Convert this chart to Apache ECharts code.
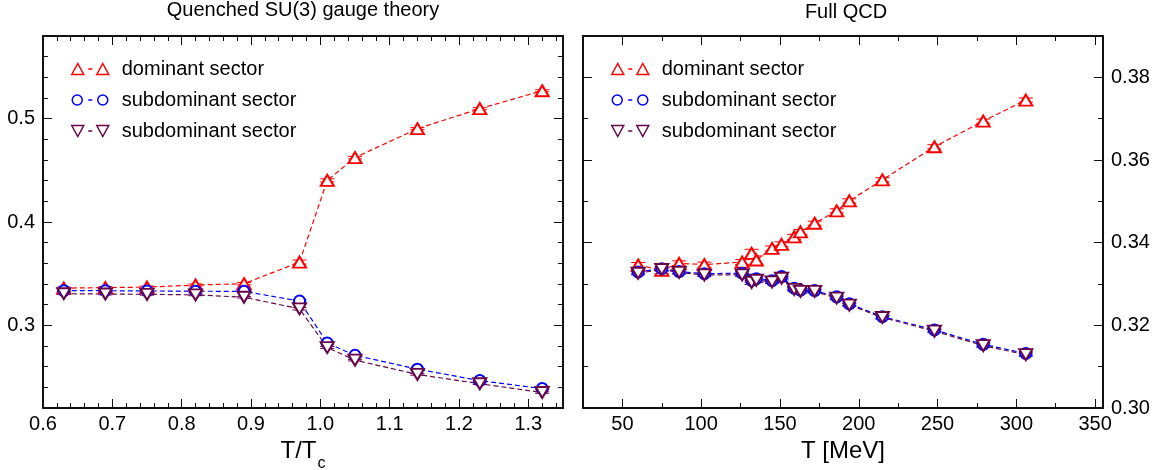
<!DOCTYPE html>
<html><head><meta charset="utf-8">
<script src="https://cdn.jsdelivr.net/npm/echarts@6/dist/echarts.min.js"></script>
<style>html,body{margin:0;padding:0;background:#fff}#c{width:1164px;height:470px}</style>
</head><body><div id="c"></div>
<script>
const FONT = "'Liberation Sans', Arial, Helvetica, sans-serif";

// ---------- Left panel: quenched SU(3) gauge theory ----------
const quenchedT = [0.63, 0.69, 0.75, 0.82, 0.89, 0.97, 1.01, 1.05, 1.14, 1.23, 1.32];
const quenchedDominant = [0.3360, 0.3365, 0.3370, 0.3390, 0.3403, 0.3612, 0.4403, 0.4623, 0.4903, 0.5097, 0.5270];
const quenchedDominantErr = [0.0010, 0.0010, 0.0010, 0.0010, 0.0012, 0.0020, 0.0015, 0.0012, 0.0010, 0.0010, 0.0010];
const quenchedSubCircle = [0.3335, 0.3335, 0.3333, 0.3330, 0.3329, 0.3235, 0.2829, 0.2710, 0.2576, 0.2465, 0.2388];
const quenchedSubCircleErr = [0.0008, 0.0008, 0.0008, 0.0008, 0.0008, 0.0012, 0.0010, 0.0008, 0.0008, 0.0008, 0.0008];
const quenchedSubTriangle = [0.3306, 0.3303, 0.3300, 0.3295, 0.3272, 0.3160, 0.2785, 0.2663, 0.2525, 0.2435, 0.2350];
const quenchedSubTriangleErr = [0.0008, 0.0008, 0.0008, 0.0008, 0.0008, 0.0012, 0.0010, 0.0008, 0.0008, 0.0008, 0.0008];

// ---------- Right panel: full QCD ----------
const qcdT = [60, 75, 86, 102, 126, 132, 135, 145, 151, 159, 163, 172, 186, 194, 215, 248, 279, 306];
const qcdDominant = [0.3346, 0.3333, 0.3350, 0.3347, 0.3353, 0.3374, 0.3358, 0.3386, 0.3396, 0.3414, 0.3426, 0.3447, 0.3477, 0.3501, 0.3552, 0.3632, 0.3694, 0.3745];
const qcdDominantErr = [0.0006, 0.0008, 0.0006, 0.0006, 0.0006, 0.0010, 0.0010, 0.0006, 0.0006, 0.0006, 0.0006, 0.0005, 0.0005, 0.0005, 0.0005, 0.0005, 0.0005, 0.0005];
const qcdSubCircle = [0.3329, 0.3337, 0.3330, 0.3325, 0.3326, 0.3309, 0.3313, 0.3308, 0.3318, 0.3290, 0.3285, 0.3284, 0.3269, 0.3252, 0.3221, 0.3189, 0.3154, 0.3132];
const qcdSubCircleErr = [0.0004, 0.0004, 0.0004, 0.0004, 0.0004, 0.0005, 0.0005, 0.0004, 0.0004, 0.0004, 0.0004, 0.0004, 0.0004, 0.0004, 0.0004, 0.0004, 0.0004, 0.0004];
const qcdSubTriangle = [0.3326, 0.3335, 0.3328, 0.3322, 0.3322, 0.3304, 0.3309, 0.3305, 0.3314, 0.3287, 0.3282, 0.3282, 0.3266, 0.3249, 0.3219, 0.3186, 0.3151, 0.3129];
const qcdSubTriangleErr = [0.0004, 0.0004, 0.0004, 0.0004, 0.0004, 0.0005, 0.0005, 0.0004, 0.0004, 0.0004, 0.0004, 0.0004, 0.0004, 0.0004, 0.0004, 0.0004, 0.0004, 0.0004];

// ---------- Tick labels ----------
const quenchedXTicks = [0.6, 0.7, 0.8, 0.9, 1.0, 1.1, 1.2, 1.3];
const quenchedYTicks = [0.3, 0.4, 0.5];
const qcdXTicks = [50, 100, 150, 200, 250, 300, 350];
const qcdYTicks = [0.30, 0.32, 0.34, 0.36, 0.38];

const titles = ['Quenched SU(3) gauge theory', 'Full QCD'];
const seriesNames = ['dominant sector', 'subdominant sector (circles)', 'subdominant sector (triangles)'];

const RED = '#ff0000', BLUE = '#0000ff', MAROON = '#670748';
const FRAME = '#111';

function axisSet(kind, grid, min, max, minorStep, majors, labelPos, digits, extra) {
  const positions = kind === 'x' ? ['bottom', 'top'] : ['left', 'right'];
  const list = [];
  positions.forEach(pos => {
    const showLabel = pos === labelPos;
    list.push({
      type: 'value', gridIndex: grid, position: pos, min, max, interval: minorStep,
      axisLine: { show: true, onZero: false, lineStyle: { color: FRAME, width: 2 } },
      axisTick: { show: true, inside: true, length: 5, lineStyle: { color: FRAME, width: 1 } },
      axisLabel: { show: false }, splitLine: { show: false }
    });
    list.push(Object.assign({
      type: 'value', gridIndex: grid, position: pos, min, max, interval: minorStep,
      axisLine: { show: false, onZero: false },
      axisTick: { show: true, inside: true, length: 9, customValues: majors, lineStyle: { color: FRAME, width: 1 } },
      axisLabel: {
        show: showLabel, customValues: majors, formatter: v => Number(v).toFixed(digits),
        fontSize: 20, fontFamily: FONT, color: '#000', margin: kind === 'x' ? 6 : 8
      },
      splitLine: { show: false }
    }, showLabel ? extra : {}));
  });
  return list;
}

const xAxes = [].concat(
  axisSet('x', 0, 0.6, 1.35, 0.02, quenchedXTicks, 'bottom', 1, {
    name: '{t|T/T}{s|c}', nameLocation: 'middle', nameGap: 25,
    nameTextStyle: { fontSize: 24, fontFamily: FONT, color: '#000',
      rich: { t: { fontSize: 24, fontFamily: FONT, color: '#000', verticalAlign: 'top', lineHeight: 24 },
              s: { fontSize: 16, fontFamily: FONT, color: '#000', verticalAlign: 'top', lineHeight: 16, padding: [17, 0, 0, 1] } } }
  }),
  axisSet('x', 1, 25, 355, 25, qcdXTicks, 'bottom', 0, {
    name: 'T [MeV]', nameLocation: 'middle', nameGap: 25,
    nameTextStyle: { fontSize: 24, fontFamily: FONT, color: '#000' }
  })
);
const yAxes = [].concat(
  axisSet('y', 0, 0.22, 0.58, 0.02, quenchedYTicks, 'left', 1, {}),
  axisSet('y', 1, 0.30, 0.39, 0.01, qcdYTicks, 'right', 2, {})
);

function pairs(xs, ys) { return xs.map((x, i) => [x, ys[i]]); }
function triples(xs, ys, es) { return xs.map((x, i) => [x, ys[i], es[i]]); }

function errSeries(name, axisIdx, data, color) {
  return {
    type: 'custom', name, xAxisIndex: axisIdx, yAxisIndex: axisIdx, data, silent: true, z: 2,
    renderItem: (params, api) => {
      const x = api.value(0), y = api.value(1), e = api.value(2);
      const hi = api.coord([x, y + e]), lo = api.coord([x, y - e]);
      const w = 7;
      const st = { stroke: color, lineWidth: 1 };
      return { type: 'group', children: [
        { type: 'line', shape: { x1: hi[0], y1: hi[1], x2: lo[0], y2: lo[1] }, style: st },
        { type: 'line', shape: { x1: hi[0] - w, y1: hi[1], x2: hi[0] + w, y2: hi[1] }, style: st },
        { type: 'line', shape: { x1: lo[0] - w, y1: lo[1], x2: lo[0] + w, y2: lo[1] }, style: st }
      ] };
    }
  };
}

function lineSeries(name, axisIdx, data, color, symbol, rotate, size) {
  return {
    type: 'line', name, xAxisIndex: axisIdx, yAxisIndex: axisIdx, data,
    symbol, symbolSize: size, symbolRotate: rotate, showSymbol: true, z: 3,
    itemStyle: { color, borderColor: color, borderWidth: 1.5 },
    lineStyle: { color, width: 1.2, type: [5, 3] },
    emphasis: { disabled: true }
  };
}

const panels = [
  { ax: 0, x: quenchedT, ys: [quenchedDominant, quenchedSubCircle, quenchedSubTriangle],
    es: [quenchedDominantErr, quenchedSubCircleErr, quenchedSubTriangleErr] },
  { ax: 4, x: qcdT, ys: [qcdDominant, qcdSubCircle, qcdSubTriangle],
    es: [qcdDominantErr, qcdSubCircleErr, qcdSubTriangleErr] }
];
const styles = [
  { color: RED, symbol: 'emptyTriangle', rotate: 0, size: [13, 11] },
  { color: BLUE, symbol: 'emptyCircle', rotate: 0, size: 11 },
  { color: MAROON, symbol: 'emptyTriangle', rotate: 180, size: [13, 11] }
];

const series = [];
panels.forEach((p, pi) => {
  styles.forEach((s, si) => {
    series.push(errSeries('err-' + pi + '-' + si, p.ax, triples(p.x, p.ys[si], p.es[si]), s.color));
    series.push(lineSeries(seriesNames[si], p.ax, pairs(p.x, p.ys[si]), s.color, s.symbol, s.rotate, s.size));
  });
});

const ICON_UP = 'path://M0 0 M46 12 M1 11.5 L7 0.5 L13 11.5 Z M17.5 6 L21.5 6 M26 11.5 L32 0.5 L38 11.5 Z';
const ICON_CIRCLE = 'path://M0 0 M46 12 M1.5 6 A5 5 0 1 1 11.5 6 A5 5 0 1 1 1.5 6 Z M17.5 6 L21.5 6 M27 6 A5 5 0 1 1 37 6 A5 5 0 1 1 27 6 Z';
const ICON_DOWN = 'path://M0 0 M46 12 M1 0.5 L13 0.5 L7 11.5 Z M17.5 6 L21.5 6 M26 0.5 L38 0.5 L32 11.5 Z';
const icons = [ICON_UP, ICON_CIRCLE, ICON_DOWN];

const legendData = seriesNames.map((n, i) => ({
  name: n, icon: icons[i],
  itemStyle: { color: '#fff', borderColor: styles[i].color, borderWidth: 1.5 }
}));
function legendAt(left) {
  return {
    left, top: 59, orient: 'vertical', itemWidth: 46, itemHeight: 12, itemGap: 11,
    selectedMode: false, padding: 0,
    textStyle: { fontSize: 20, fontFamily: FONT, color: '#000' },
    formatter: n => n.replace(/ \(.*\)$/, ''),
    data: legendData
  };
}

const option = {
  animation: false,
  backgroundColor: '#fff',
  title: [
    { text: titles[0], left: 303, top: 0, textAlign: 'center', padding: 0,
      textStyle: { fontSize: 20, fontWeight: 'normal', fontFamily: FONT, color: '#000' } },
    { text: titles[1], left: 846, top: 2, textAlign: 'center', padding: 0,
      textStyle: { fontSize: 20, fontWeight: 'normal', fontFamily: FONT, color: '#000' } }
  ],
  grid: [
    { left: 43, top: 36, width: 520, height: 372, containLabel: false, outerBoundsMode: 'none' },
    { left: 583, top: 36, width: 520, height: 372, containLabel: false, outerBoundsMode: 'none' }
  ],
  legend: [legendAt(70), legendAt(610)],
  xAxis: xAxes,
  yAxis: yAxes,
  series
};

const chart = echarts.init(document.getElementById('c'), null, { renderer: 'canvas' });
chart.setOption(option);
</script>
</body></html>
